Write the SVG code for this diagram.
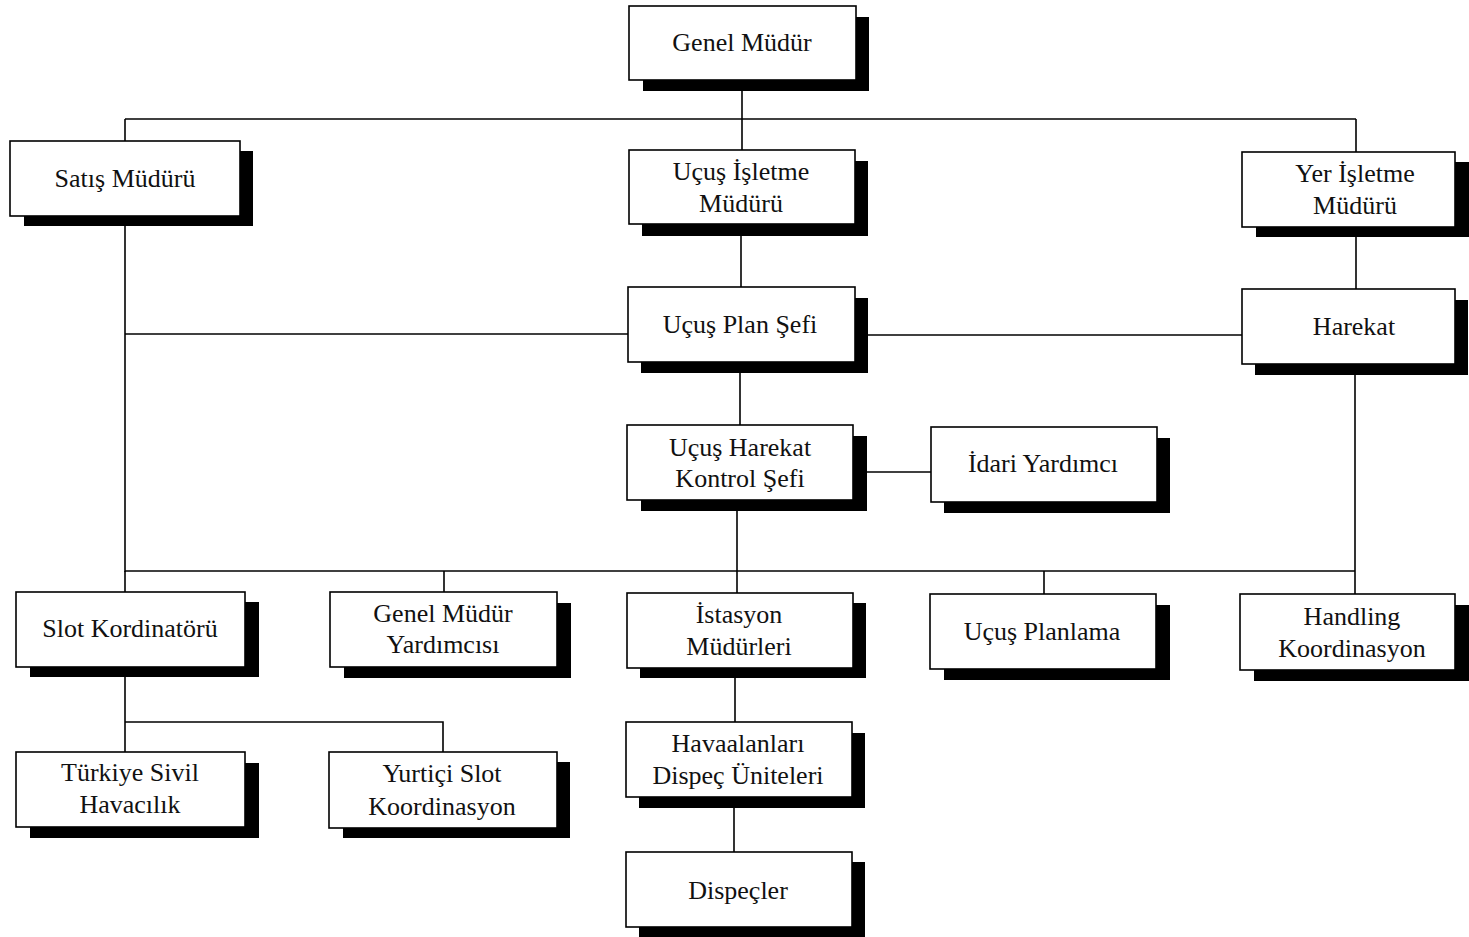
<svg xmlns="http://www.w3.org/2000/svg" width="1469" height="937" viewBox="0 0 1469 937">
  <style>
    .bg { fill: #ffffff; }
    .shadow { fill: #000000; }
    .box { fill: #ffffff; stroke: #000000; stroke-width: 1.6; }
    .lbl { font-family: "Liberation Serif", "Times New Roman", serif; font-size: 26px; fill: #111111; text-anchor: middle; }
    .wire { fill: none; stroke: #000000; stroke-width: 1.6; }
  </style>
  <rect class="bg" x="0" y="0" width="1469" height="937"/>

  <!-- connectors -->
  <g id="connectors">
    <path class="wire" d="M742 80 V150"/>
    <path class="wire" d="M125 119 H1356"/>
    <path class="wire" d="M125 119 V141"/>
    <path class="wire" d="M1356 119 V152"/>
    <path class="wire" d="M125 216 V572"/>
    <path class="wire" d="M125 334 H628"/>
    <path class="wire" d="M855 335 H1242"/>
    <path class="wire" d="M741 224 V287"/>
    <path class="wire" d="M1356 227 V289"/>
    <path class="wire" d="M1355 364 V594"/>
    <path class="wire" d="M740 362 V425"/>
    <path class="wire" d="M853 472 H931"/>
    <path class="wire" d="M737 500 V593"/>
    <path class="wire" d="M125 571 H1355"/>
    <path class="wire" d="M125 571 V592"/>
    <path class="wire" d="M444 571 V592"/>
    <path class="wire" d="M1044 571 V594"/>
    <path class="wire" d="M125 667 V752"/>
    <path class="wire" d="M125 722 H443 V752"/>
    <path class="wire" d="M735 668 V722"/>
    <path class="wire" d="M734 797 V852"/>
  </g>

  <!-- boxes: black shadow rect behind, offset down and to the right -->
  <g id="genel-mudur">
    <rect class="shadow" x="643" y="17" width="226" height="74"/>
    <rect class="box" x="629" y="6" width="227" height="74"/>
    <text class="lbl" x="742" y="51">Genel Müdür</text>
  </g>

  <g id="satis-muduru">
    <rect class="shadow" x="24" y="151" width="229" height="75"/>
    <rect class="box" x="10" y="141" width="230" height="75"/>
    <text class="lbl" x="125" y="187">Satış Müdürü</text>
  </g>

  <g id="ucus-isletme-muduru">
    <rect class="shadow" x="642" y="161" width="226" height="75"/>
    <rect class="box" x="629" y="150" width="226" height="74"/>
    <text class="lbl" x="741" y="180">Uçuş İşletme</text>
    <text class="lbl" x="741" y="212">Müdürü</text>
  </g>

  <g id="yer-isletme-muduru">
    <rect class="shadow" x="1256" y="162" width="213" height="75"/>
    <rect class="box" x="1242" y="152" width="213" height="75"/>
    <text class="lbl" x="1355" y="182">Yer İşletme</text>
    <text class="lbl" x="1355" y="214">Müdürü</text>
  </g>

  <g id="ucus-plan-sefi">
    <rect class="shadow" x="641" y="298" width="227" height="75"/>
    <rect class="box" x="628" y="287" width="227" height="75"/>
    <text class="lbl" x="740" y="333">Uçuş Plan Şefi</text>
  </g>

  <g id="harekat">
    <rect class="shadow" x="1255" y="300" width="213" height="75"/>
    <rect class="box" x="1242" y="289" width="213" height="75"/>
    <text class="lbl" x="1354" y="335">Harekat</text>
  </g>

  <g id="ucus-harekat-kontrol-sefi">
    <rect class="shadow" x="641" y="436" width="226" height="75"/>
    <rect class="box" x="627" y="425" width="226" height="75"/>
    <text class="lbl" x="740" y="456">Uçuş Harekat</text>
    <text class="lbl" x="740" y="487">Kontrol Şefi</text>
  </g>

  <g id="idari-yardimci">
    <rect class="shadow" x="944" y="438" width="226" height="75"/>
    <rect class="box" x="931" y="427" width="226" height="75"/>
    <text class="lbl" x="1043" y="472">İdari Yardımcı</text>
  </g>

  <g id="slot-kordinatoru">
    <rect class="shadow" x="30" y="602" width="229" height="75"/>
    <rect class="box" x="16" y="592" width="229" height="75"/>
    <text class="lbl" x="130" y="637">Slot Kordinatörü</text>
  </g>

  <g id="genel-mudur-yardimcisi">
    <rect class="shadow" x="344" y="603" width="227" height="75"/>
    <rect class="box" x="330" y="592" width="227" height="75"/>
    <text class="lbl" x="443" y="622">Genel Müdür</text>
    <text class="lbl" x="443" y="653">Yardımcısı</text>
  </g>

  <g id="istasyon-mudurleri">
    <rect class="shadow" x="640" y="603" width="226" height="75"/>
    <rect class="box" x="627" y="593" width="226" height="75"/>
    <text class="lbl" x="739" y="623">İstasyon</text>
    <text class="lbl" x="739" y="655">Müdürleri</text>
  </g>

  <g id="ucus-planlama">
    <rect class="shadow" x="944" y="605" width="226" height="75"/>
    <rect class="box" x="930" y="594" width="226" height="75"/>
    <text class="lbl" x="1042" y="640">Uçuş Planlama</text>
  </g>

  <g id="handling-koordinasyon">
    <rect class="shadow" x="1254" y="605" width="215" height="76"/>
    <rect class="box" x="1240" y="594" width="215" height="76"/>
    <text class="lbl" x="1352" y="625">Handling</text>
    <text class="lbl" x="1352" y="657">Koordinasyon</text>
  </g>

  <g id="turkiye-sivil-havacilik">
    <rect class="shadow" x="30" y="763" width="229" height="75"/>
    <rect class="box" x="16" y="752" width="229" height="75"/>
    <text class="lbl" x="130" y="781">Türkiye Sivil</text>
    <text class="lbl" x="130" y="813">Havacılık</text>
  </g>

  <g id="yurtici-slot-koordinasyon">
    <rect class="shadow" x="343" y="762" width="227" height="76"/>
    <rect class="box" x="329" y="752" width="228" height="76"/>
    <text class="lbl" x="442" y="782">Yurtiçi Slot</text>
    <text class="lbl" x="442" y="815">Koordinasyon</text>
  </g>

  <g id="havaalanlari-dispec-uniteleri">
    <rect class="shadow" x="639" y="733" width="226" height="75"/>
    <rect class="box" x="626" y="722" width="226" height="75"/>
    <text class="lbl" x="738" y="752">Havaalanları</text>
    <text class="lbl" x="738" y="784">Dispeç Üniteleri</text>
  </g>

  <g id="dispecler">
    <rect class="shadow" x="639" y="862" width="226" height="75"/>
    <rect class="box" x="626" y="852" width="226" height="75"/>
    <text class="lbl" x="738" y="899">Dispeçler</text>
  </g>
</svg>
